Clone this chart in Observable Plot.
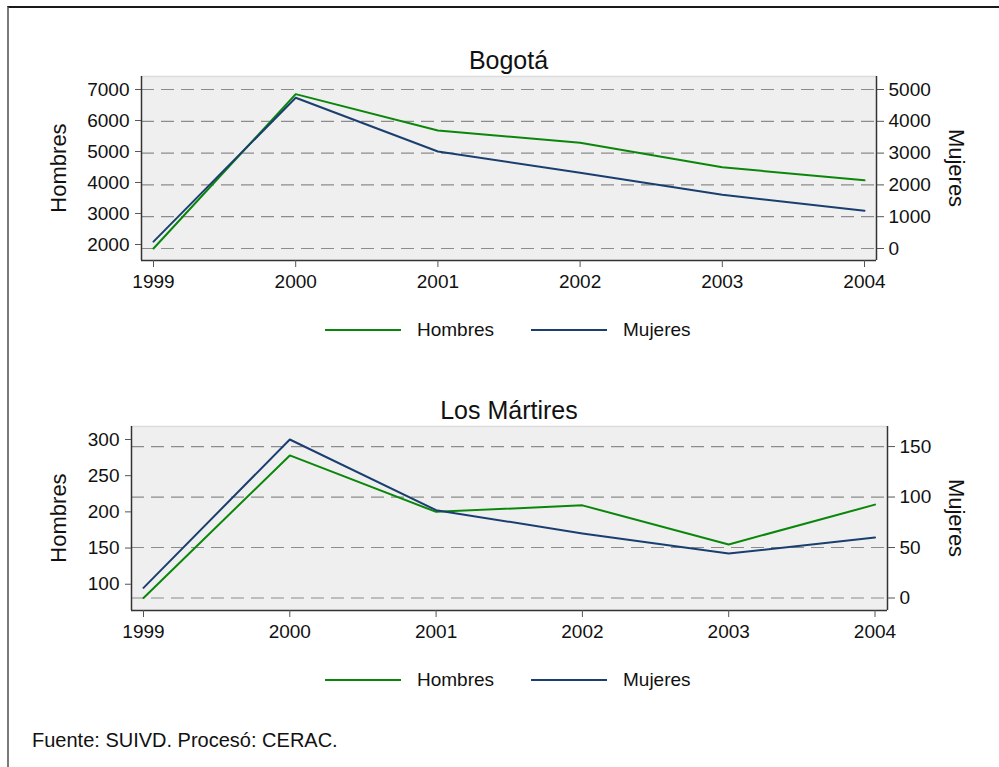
<!DOCTYPE html>
<html>
<head>
<meta charset="utf-8">
<script src="https://cdn.jsdelivr.net/npm/d3@7"></script>
<script src="https://cdn.jsdelivr.net/npm/@observablehq/plot@0.6"></script>
<style>
  html, body { margin: 0; padding: 0; background: #fff; }
  #page { position: relative; width: 999px; height: 767px; overflow: hidden; font-family: "Liberation Sans", Arial, sans-serif; color: #111; }
  #border { position: absolute; left: 7px; top: 6px; width: 1100px; height: 900px; border-top: 2px solid #1a1a1a; border-left: 2px solid #7a7a7a; }
  .abs { position: absolute; white-space: nowrap; }
  .title { font-size: 25px; line-height: 28px; text-align: center; width: 400px; }
  .ytitle { font-size: 22px; line-height: 26px; width: 200px; text-align: center; }
  .leg { font-size: 19px; line-height: 22px; }
  .legline { position: absolute; height: 2px; }
  .caption { font-size: 20px; line-height: 24px; }
</style>
</head>
<body>
<div id="page">
  <div id="border"></div>
</div>
<script>
// ---- data ----
const years = [1999, 2000, 2001, 2002, 2003, 2004];

const bogotaHombres = [1870, 6850, 5680, 5280, 4490, 4070];
const bogotaMujeres = [215, 4740, 3050, 2380, 1690, 1190];
const bogotaLeftTicks = [2000, 3000, 4000, 5000, 6000, 7000];
const bogotaRightTicks = [0, 1000, 2000, 3000, 4000, 5000];

const martiresHombres = [81, 278, 200, 209, 155, 210];
const martiresMujeres = [10, 157, 87, 64, 44, 60];
const martiresLeftTicks = [100, 150, 200, 250, 300];
const martiresRightTicks = [0, 50, 100, 150];

const seriesNames = ["Hombres", "Mujeres"];
const colors = { Hombres: "#0a870a", Mujeres: "#1a3f6f" };
const captionText = "Fuente: SUIVD. Procesó: CERAC.";

const page = document.getElementById("page");

function addDiv(cls, text, style) {
  const d = document.createElement("div");
  d.className = "abs " + cls;
  if (text != null) d.textContent = text;
  Object.assign(d.style, style);
  page.appendChild(d);
  return d;
}

function panel(opts) {
  const { title, hombres, mujeres, leftTicks, rightTicks, top, marginLeft, marginRight, padL, padR, padT, padB } = opts;
  const width = 999, height = 260, marginTop = 36, marginBottom = 40;
  // Stata-style dual axes: both axes span [min, max] over the same pixel band
  const hLo = Math.min(d3.min(hombres), d3.min(leftTicks));
  const hHi = Math.max(d3.max(hombres), d3.max(leftTicks));
  const mLo = Math.min(d3.min(mujeres), d3.min(rightTicks));
  const mHi = Math.max(d3.max(mujeres), d3.max(rightTicks));
  const hFromM = m => hLo + (m - mLo) * (hHi - hLo) / (mHi - mLo);
  const mFromH = h => mLo + (h - hLo) * (mHi - mLo) / (hHi - hLo);

  const H = height - marginTop - marginBottom;
  const upp = (hHi - hLo) / (H - padT - padB);
  const yDomain = [hLo - padB * upp, hHi + padT * upp];
  const W = width - marginLeft - marginRight;
  const xupp = (years[years.length - 1] - years[0]) / (W - padL - padR);
  const xDomain = [years[0] - padL * xupp, years[years.length - 1] + padR * xupp];

  const rows = years.map((year, i) => ({ year, hombres: hombres[i], mujeres: mujeres[i] }));

  const chart = Plot.plot({
    width, height, marginTop, marginBottom, marginLeft, marginRight,
    style: { fontFamily: "'Liberation Sans', Arial, sans-serif", fontSize: "19px", color: "#111", background: "transparent", overflow: "visible" },
    x: { domain: xDomain },
    y: { domain: yDomain },
    marks: [
      Plot.frame({ fill: "#efefef", stroke: "none" }),
      Plot.ruleY(rightTicks, { y: m => hFromM(m), stroke: "#8c8c8c", strokeWidth: 1.2, strokeDasharray: "13,7" }),
      Plot.ruleY([yDomain[1]], { stroke: "#dcdcdc", strokeWidth: 1.5 }),
      Plot.line(rows, { x: "year", y: "hombres", stroke: colors.Hombres, strokeWidth: 2 }),
      Plot.line(rows, { x: "year", y: d => hFromM(d.mujeres), stroke: colors.Mujeres, strokeWidth: 2 }),
      Plot.ruleY([yDomain[0]], { stroke: "#333", strokeWidth: 1.5 }),
      Plot.ruleX([xDomain[0]], { stroke: "#333", strokeWidth: 1.5 }),
      Plot.ruleX([xDomain[1]], { stroke: "#333", strokeWidth: 1.5 }),
      Plot.axisX({ ticks: years, tickFormat: d => String(d), tickSize: 7, tickPadding: 7, label: null, stroke: "#555" }),
      Plot.axisY({ anchor: "left", ticks: leftTicks, tickFormat: d3.format("d"), tickSize: 6, tickPadding: 6, label: null, stroke: "#555" }),
      Plot.axisY({ anchor: "right", ticks: rightTicks.map(hFromM), tickFormat: h => String(Math.round(mFromH(h))), tickSize: 7, tickPadding: 5, label: null, stroke: "#555" })
    ]
  });
  chart.style.position = "absolute";
  chart.style.left = "0px";
  chart.style.top = top + "px";
  page.appendChild(chart);

  const plotCx = marginLeft + W / 2;
  const plotCy = top + marginTop + H / 2;
  addDiv("title", title, { left: (plotCx - 200) + "px", top: (top + 6) + "px" });
  addDiv("ytitle", seriesNames[0], { left: (59 - 100) + "px", top: (plotCy - 13) + "px", transform: "rotate(-90deg)" });
  addDiv("ytitle", seriesNames[1], { left: (956 - 100) + "px", top: (plotCy - 13) + "px", transform: "rotate(90deg)" });

  // legend
  const ly = top + 290;
  const items = [{ name: seriesNames[0], x: 325 }, { name: seriesNames[1], x: 531 }];
  items.forEach(it => {
    const l = document.createElement("div");
    l.className = "legline";
    Object.assign(l.style, { left: it.x + "px", top: (ly - 1) + "px", width: "76px", background: colors[it.name] });
    page.appendChild(l);
    addDiv("leg", it.name, { left: (it.x + 92) + "px", top: (ly - 11) + "px" });
  });
}

panel({ title: "Bogotá", hombres: bogotaHombres, mujeres: bogotaMujeres, leftTicks: bogotaLeftTicks, rightTicks: bogotaRightTicks,
  top: 40, marginLeft: 141, marginRight: 123, padL: 12, padR: 12, padT: 13, padB: 12 });
panel({ title: "Los Mártires", hombres: martiresHombres, mujeres: martiresMujeres, leftTicks: martiresLeftTicks, rightTicks: martiresRightTicks,
  top: 390, marginLeft: 131, marginRight: 112, padL: 12, padR: 12.5, padT: 13, padB: 12.5 });

addDiv("caption", captionText, { left: "32px", top: "728px" });
</script>
</body>
</html>
